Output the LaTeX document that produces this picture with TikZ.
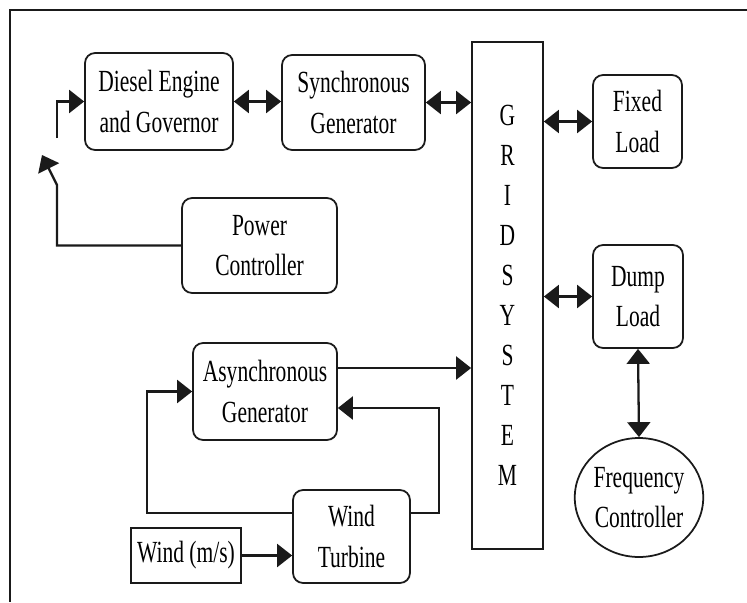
\documentclass[tikz,border=0pt]{standalone}
\usepackage{fontspec}
\setmainfont[FakeStretch=0.7]{Liberation Serif}
\usetikzlibrary{positioning, calc, arrows.meta, shapes.geometric}
\definecolor{Dark}{HTML}{1A1A1A}
\tikzset{
    blocknode/.style={rectangle, rounded corners=0.2cm, draw=Dark, line width=1pt, align=center, font=\fontsize{17.5}{22.8}\selectfont, inner sep=0pt},
    plainnode/.style={rectangle, draw=Dark, line width=1pt, align=center, font=\fontsize{17.5}{22.8}\selectfont, inner sep=0pt},
    ovalnode/.style={ellipse, draw=Dark, line width=1pt, align=center, font=\fontsize{17.5}{22.8}\selectfont, inner sep=0pt},
    arrow/.style={-{Triangle[length=0.3cm, width=0.46cm]}, line width=1.3pt, color=Dark},
    biarrow/.style={{Triangle[length=0.3cm, width=0.46cm]}-{Triangle[length=0.3cm, width=0.46cm]}, line width=1.3pt, color=Dark},
}
\begin{document}
\begin{tikzpicture}[x=0.02cm, y=-0.02cm]
    \useasboundingbox (0,0) rectangle (747,602);
    % Frame
    \draw[line width=1pt, Dark] (747,10) -- (10,10) -- (10,602);

    % Diesel branch
    \node[blocknode, minimum width=2.96cm, minimum height=1.94cm] (diesel) at (159,101.5) {Diesel Engine\\and Governor};
    \node[blocknode, minimum width=2.86cm, minimum height=1.9cm] (syncgen) at (353.5,102.5) {Synchronous\\Generator};
    \node[blocknode, minimum width=3.1cm, minimum height=1.9cm] (power) at (259.5,245.5) {Power\\Controller};

    % Grid
    \node[plainnode, minimum width=1.42cm, minimum height=10.14cm] (grid) at (507.5,295.5) {G\\R\\I\\D\\S\\Y\\S\\T\\E\\M};

    % Loads
    \node[blocknode, minimum width=1.78cm, minimum height=1.86cm] (fixed) at (637.5,121.5) {Fixed\\Load};
    \node[blocknode, minimum width=1.8cm, minimum height=2.06cm] (dump) at (638,296.5) {Dump\\Load};
    \node[ovalnode, minimum width=2.56cm, minimum height=2.38cm] (freq) at (639,497.5) {Frequency\\Controller};

    % Wind branch
    \node[blocknode, minimum width=2.88cm, minimum height=1.94cm] (async) at (265,391.5) {Asynchronous\\Generator};
    \node[blocknode, minimum width=2.34cm, minimum height=1.86cm] (turbine) at (351.5,536.5) {Wind\\Turbine};
    \node[plainnode, minimum width=2.2cm, minimum height=1.1cm] (wind) at (186,555.5) {Wind (m/s)};

    % Switch
    \coordinate (swbase) at (57,185);
    \coordinate (swtip) at (42,155);
    \coordinate (swout) at (57,138);

    % Connections
    \draw[biarrow] (diesel.east) -- (diesel.east -| syncgen.west);
    \draw[biarrow] (syncgen.east) -- (syncgen.east -| grid.west);
    \draw[biarrow] (grid.east |- fixed.west) -- (fixed.west);
    \draw[biarrow] (grid.east |- dump.west) -- (dump.west);
    \draw[biarrow] (dump.south) -- (freq.north);
    \draw[arrow] (power.west) -| (swbase) -- (swtip);
    \draw[arrow] (swout) |- (diesel.west);
    \draw[arrow] ([yshift=0.47cm]async.east) -- ([yshift=0.47cm]async.east -| grid.west);
    \draw[arrow] ([yshift=0.47cm]turbine.east) -- ++(0.56cm,0) |- ([yshift=-0.33cm]async.east);
    \draw[arrow] ([yshift=0.47cm]turbine.west) -- ++(-2.9cm,0) |- (async.west);
    \draw[arrow] (wind.east) -- (wind.east -| turbine.west);
\end{tikzpicture}
\end{document}
